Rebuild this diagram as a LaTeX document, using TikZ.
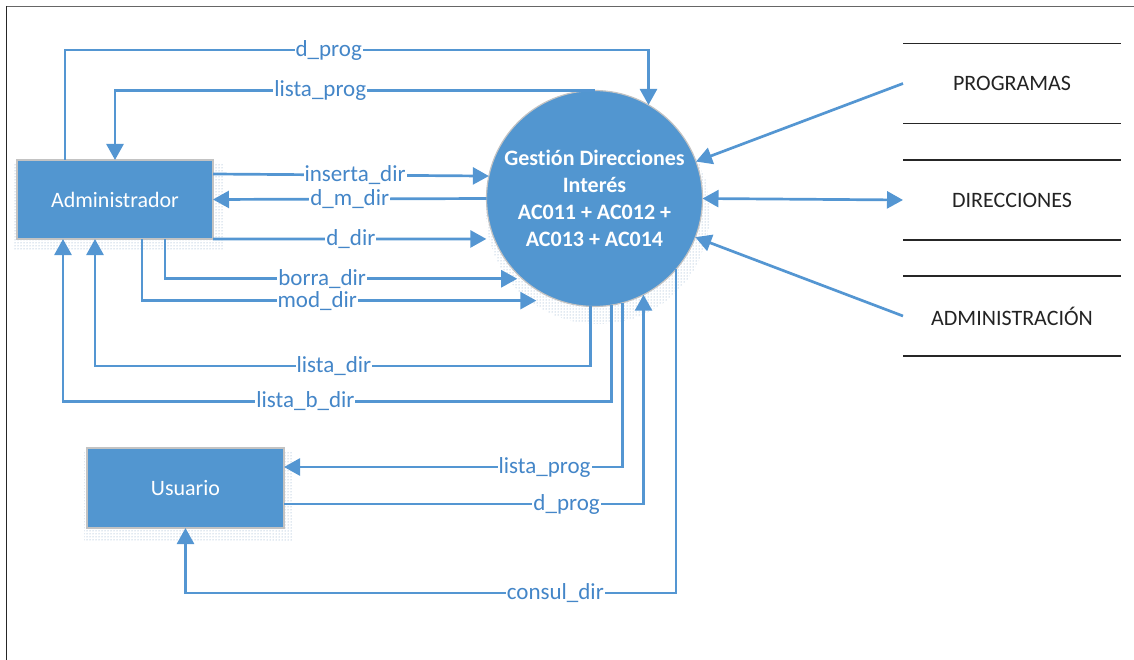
\documentclass[tikz,border=0pt]{standalone}
\usepackage{fontspec}
\setmainfont[Ligatures=NoCommon]{Carlito}
\usetikzlibrary{arrows.meta,patterns}
\definecolor{flowblue}{RGB}{84,150,210}
\definecolor{lblblue}{RGB}{68,134,200}
\definecolor{entfill}{RGB}{82,150,208}
\definecolor{entborder}{RGB}{195,195,195}
\definecolor{shadowdot}{RGB}{125,158,195}
\definecolor{storetext}{RGB}{35,35,35}
\begin{document}
\begin{tikzpicture}[x=1pt,y=-1pt,
  ent/.style={rectangle, fill=entfill, draw=entborder, line width=1.5pt, text=white, font=\fontsize{22}{26}\selectfont, inner sep=0pt, outer sep=0pt},
  proc/.style={circle, fill=entfill, draw=entborder, line width=1.2pt, text=white, align=center, font=\bfseries\fontsize{22}{27}\selectfont, minimum size=216pt, inner sep=0pt, outer sep=0pt},
  store/.style={rectangle, minimum width=218pt, minimum height=80pt, text=storetext, font=\fontsize{22}{26}\selectfont, inner sep=0pt, outer sep=0pt},
  storeline/.style={line width=1.6pt, draw=black!85},
  flow/.style={draw=flowblue, line width=2.7pt, -{Triangle[length=16pt,width=17pt]}},
  lbl/.style={fill=white, text=lblblue, font=\fontsize{23}{27}\selectfont, inner sep=1pt},
  shadow/.style={pattern=dots, pattern color=shadowdot},
  frameline/.style={line width=1.3pt}
]
\useasboundingbox (0,0) rectangle (1134,660);
\draw[frameline, draw=black!60] (6,6.5) -- (1134,6.5);
\draw[frameline, draw=black!85] (6.5,6) -- (6.5,660);

% shadows
\path[shadow] (14,163) rectangle (223,251);
\path[shadow] (84,452) rectangle (293,540);
\path[shadow] (598,212) circle[radius=112];

% entities and process
\node[ent, minimum width=196pt, minimum height=79pt] (adm) at (115,199.5) {Administrador};
\node[ent, minimum width=197pt, minimum height=80pt] (usu) at (185.5,488) {Usuario};
\node[proc] (p) at (594.5,198.5) {Gestión Direcciones\\Interés\\AC011 + AC012 +\\AC013 + AC014};

% data stores
\node[store] (sprog) at (1012,83.5) {PROGRAMAS};
\node[store] (sdir) at (1012,200) {DIRECCIONES};
\node[store] (sadm) at (1012,316) {ADMINISTRACIÓN};
\foreach \s in {sprog,sdir,sadm}{
  \draw[storeline] (\s.north west) -- (\s.north east);
  \draw[storeline] (\s.south west) -- (\s.south east);
}

% flows
\draw[flow] ([xshift=-50pt]adm.north) -- ++(0,-110) -| node[lbl,pos=0.226] (l1) {d\_prog} (p.60.3);
\draw[flow] (p.north) -| node[lbl,pos=0.286] (l2) {lista\_prog} (adm.north);
\draw[flow] ([yshift=25.5pt]adm.east) -- node[lbl,pos=0.515] (l3) {inserta\_dir} (p.168.9);
\draw[flow] (p.west) -- node[lbl,pos=0.5] (l4) {d\_m\_dir} (adm.east);
\draw[flow, shorten >=8pt] ([yshift=-39.5pt]adm.east) -- node[lbl,pos=0.49] (l5) {d\_dir} (p.202.9);
\draw[flow, shorten >=5pt] ([xshift=50pt]adm.south) |- node[lbl,pos=0.72] (l6) {borra\_dir} (p.228.2);
\draw[flow, shorten >=23pt] ([xshift=27pt]adm.south) |- node[lbl,pos=0.71] (l7) {mod\_dir} (p.251.6);
\draw[flow] (p.268.7) -- ++(0,59.5) -| node[lbl,pos=0.259] (l8) {lista\_dir} ([xshift=-20pt]adm.south);
\draw[flow] (p.279.9) -- ++(0,96.1) -| node[lbl,pos=0.279] (l9) {lista\_b\_dir} ([xshift=-52pt]adm.south);
\draw[flow] (p.285.3) |- node[lbl,pos=0.615] (l10) {lista\_prog} ([yshift=21pt]usu.east);
\draw[flow] ([yshift=-16pt]usu.east) -| node[lbl,pos=0.393] (l11) {d\_prog} (p.297.9);
\draw[flow] (p.319) -- ++(0,323.6) -| node[lbl,pos=0.123] (l12) {consul\_dir} (usu.south);

\draw[flow] (sprog.west) -- (p.20.4);
\draw[flow, {Triangle[length=16pt,width=17pt]}-{Triangle[length=16pt,width=17pt]}] (p.-0.8) -- (sdir.west);
\draw[flow] (sadm.west) -- (p.-21.8);
\end{tikzpicture}
\end{document}
